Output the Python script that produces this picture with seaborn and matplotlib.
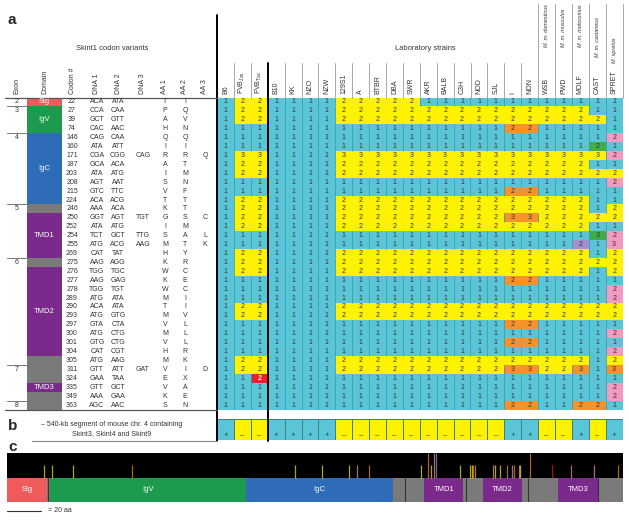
"""Skint1 codon variants across mouse strains (panels a-c)."""

import matplotlib

matplotlib.use("Agg")
import matplotlib.pyplot as plt
import numpy as np
import pandas as pd
import seaborn as sns
from matplotlib.colors import ListedColormap
from matplotlib.patches import Rectangle

# ---------------- data ----------------
strains = ["B6", "FVB$_{Jax}$", "FVB$_{Tac}$", "B10", "KK", "NZO", "NZW",
           "129S1", "A", "BTBR", "DBA", "SWR", "AKR", "BALB", "C3H", "NOD",
           "SJL", "I", "NON", "WSB", "PWD", "MOLF", "CAST", "SPRET"]
subspecies = ["M. m. domesticus", "M. m. musculus", "M. m. molossinus",
              "M. m. castaneus", "M. spretus"]  # WSB .. SPRET

codons = [22, 27, 39, 74, 146, 160, 171, 187, 203, 208, 215, 224, 246, 250,
          252, 254, 255, 269, 275, 276, 277, 278, 289, 290, 293, 297, 300,
          301, 304, 305, 311, 324, 335, 349, 363]
dna1 = ["ACA", "CCA", "GCT", "CAC", "CAG", "ATA", "CGA", "GCA", "ATA", "AGT",
        "GTC", "ACA", "AAA", "GGT", "ATA", "TCT", "ATG", "CAT", "AAG", "TGG",
        "AAG", "TGG", "ATG", "ACA", "ATG", "GTA", "ATG", "GTG", "CAT", "ATG",
        "GTT", "GAA", "GTT", "AAA", "AGC"]
dna2 = ["ATA", "CAA", "GTT", "AAC", "CAA", "ATT", "CGG", "ACA", "ATG", "AAT",
        "TTC", "ACG", "ACA", "AGT", "ATG", "GCT", "ACG", "TAT", "AGG", "TGC",
        "GAG", "TGT", "ATA", "ATA", "GTG", "CTA", "CTG", "CTG", "CGT", "AAG",
        "ATT", "TAA", "GCT", "GAA", "AAC"]
dna3 = ["", "", "", "", "", "", "CAG", "", "", "", "", "", "", "TGT", "",
        "TTG", "AAG", "", "", "", "", "", "", "", "", "", "", "", "", "",
        "GAT", "", "", "", ""]
aa1 = ["T", "P", "A", "H", "Q", "I", "R", "A", "I", "S", "V", "T", "K", "G",
       "I", "S", "M", "H", "K", "W", "K", "W", "M", "T", "M", "V", "M", "V",
       "H", "M", "V", "E", "V", "K", "S"]
aa2 = ["I", "Q", "V", "N", "Q", "I", "R", "T", "M", "N", "F", "T", "T", "S",
       "M", "A", "T", "Y", "R", "C", "E", "C", "I", "I", "V", "L", "L", "L",
       "R", "K", "I", "X", "A", "E", "N"]
aa3 = ["", "", "", "", "", "", "Q", "", "", "", "", "", "", "C", "", "L",
       "K", "", "", "", "", "", "", "", "", "", "", "", "", "", "D", "", "",
       "", ""]

# allele per strain (columns in `strains` order)
alleles = [
    "122111122222111111111111",  # 22
    "122111122222222222222211",  # 27
    "122111122222222222222221",  # 39
    "111111111111111112211111",  # 74
    "111111111111111111111112",  # 146
    "111111111111111111111121",  # 160
    "133111133333333333333332",  # 171
    "122111122222222222222211",  # 187
    "122111122222222222222222",  # 203
    "111111111111111111111112",  # 208
    "111111111111111112211111",  # 215
    "122111122222222222222211",  # 224
    "122111122222222222222212",  # 246
    "122111122222222223322222",  # 250
    "122111122222222222222211",  # 252
    "111111111111111111111132",  # 254
    "111111111111111111111213",  # 255
    "122111122222222222222212",  # 269
    "122111122222222222222222",  # 275
    "122111122222222222222212",  # 276
    "111111111111111112211111",  # 277
    "111111111111111111111112",  # 278
    "111111111111111111111112",  # 289
    "122111122222222222222222",  # 290
    "122111122222222222222222",  # 293
    "111111111111111112211111",  # 297
    "111111111111111111111112",  # 300
    "111111111111111112211111",  # 301
    "111111111111111111111112",  # 304
    "122111122222222222222212",  # 305
    "122111122222222223322313",  # 311
    "112111111111111111111111",  # 324
    "111111111111111111111112",  # 335
    "111111111111111111111112",  # 349
    "111111111111111112211221",  # 363
]
# haplotype class per cell: c=reference, y=common variant, o=I/NON type,
# g=CAST, p=SPRET, v=MOLF, r=FVB Tac
haplo = [
    "cyyccccyyyyycccccccccccc",
    "cyyccccyyyyyyyyyyyyyyycc",
    "cyyccccyyyyyyyyyyyyyyyyc",
    "cccccccccccccccccooccccc",
    "cccccccccccccccccccccccp",
    "ccccccccccccccccccccccgc",
    "cyyccccyyyyyyyyyyyyyyyyp",
    "cyyccccyyyyyyyyyyyyyyycc",
    "cyyccccyyyyyyyyyyyyyyyyy",
    "cccccccccccccccccccccccp",
    "cccccccccccccccccooccccc",
    "cyyccccyyyyyyyyyyyyyyycc",
    "cyyccccyyyyyyyyyyyyyyycy",
    "cyyccccyyyyyyyyyyooyyyyy",
    "cyyccccyyyyyyyyyyyyyyycc",
    "ccccccccccccccccccccccgp",
    "cccccccccccccccccccccvcp",
    "cyyccccyyyyyyyyyyyyyyycy",
    "cyyccccyyyyyyyyyyyyyyyyy",
    "cyyccccyyyyyyyyyyyyyyycy",
    "cccccccccccccccccooccccc",
    "cccccccccccccccccccccccp",
    "cccccccccccccccccccccccp",
    "cyyccccyyyyyyyyyyyyyyyyy",
    "cyyccccyyyyyyyyyyyyyyyyy",
    "cccccccccccccccccooccccc",
    "cccccccccccccccccccccccp",
    "cccccccccccccccccooccccc",
    "cccccccccccccccccccccccp",
    "cyyccccyyyyyyyyyyyyyyycy",
    "cyyccccyyyyyyyyyyooyyoco",
    "ccrccccccccccccccccccccc",
    "cccccccccccccccccccccccp",
    "cccccccccccccccccccccccp",
    "cccccccccccccccccooccooc",
]

segment_540kb = "+--++++----------++--+-+"

exon_names = ["2", "3", "4", "5", "6", "7", "8"]
exon_first_row = [0, 1, 4, 12, 18, 30, 34]
domain_rows = [("Sig", 0, 1), ("IgV", 1, 4), ("IgC", 4, 12), ("", 12, 13),
               ("TMD1", 13, 18), ("", 18, 19), ("TMD2", 19, 29), ("", 29, 32),
               ("TMD3", 32, 33), ("", 33, 35)]

protein_len = 366
protein_domains = [("Sig", 0, 24), ("IgV", 25.5, 142), ("IgC", 142, 229.5),
                   ("TMD1", 248, 271), ("TMD2", 283, 306), ("TMD3", 327.5, 351)]
exon_bounds_aa = [24.5, 236.5, 272.5, 309.5, 351]

# ---------------- style ----------------
haplo_codes = "cyogpvr"
haplo_colors = ["#5bc5d8", "#fff200", "#f5922b", "#3fae49", "#f29ac2",
                "#a391cf", "#e8202a"]
domain_colors = {"Sig": "#ef5b5b", "IgV": "#1c9a4e", "IgC": "#2f6cb8",
                 "TMD1": "#7a2a8a", "TMD2": "#7a2a8a", "TMD3": "#7a2a8a",
                 "": "#7a7a7a"}
txt_col = "#333333"

sns.set_style("white")
plt.rcParams["font.family"] = ["Liberation Sans", "DejaVu Sans"]
plt.rcParams["mathtext.default"] = "regular"

W, H = 629, 520
fig = plt.figure(figsize=(W / 100, H / 100), dpi=100)


def rect(x, y, w, h):
    return [x / W, 1 - (y + h) / H, w / W, h / H]


X0, COLW = 217.0, 16.9
Y0, Y1 = 97.5, 409.5
n_rows, n_cols = len(codons), len(strains)
ROWH = (Y1 - Y0) / n_rows

# ---------------- panel a heatmap ----------------
hm = fig.add_axes(rect(X0, Y0, COLW * n_cols, Y1 - Y0))
idx = pd.DataFrame([[haplo_codes.index(ch) for ch in row] for row in haplo],
                   index=codons, columns=strains)
vals = np.array([list(row) for row in alleles])
sns.heatmap(idx, cmap=ListedColormap(haplo_colors), vmin=-0.5,
            vmax=len(haplo_colors) - 0.5, annot=vals, fmt="", cbar=False,
            xticklabels=False, yticklabels=False, ax=hm,
            annot_kws=dict(fontsize=5.0))
for t in hm.texts:
    r = int(t.get_position()[1])
    c = int(t.get_position()[0])
    t.set_color("white" if haplo[r][c] == "r" else txt_col)
    t.set_fontweight("bold" if haplo[r][c] == "r" else "normal")
# column separators through reference-coloured cells
segs_x, segs_y0, segs_y1 = [], [], []
for r, row in enumerate(haplo):
    for j in range(1, n_cols):
        if row[j - 1] != row[j] or row[j] == "c":
            segs_x.append(j)
            segs_y0.append(r)
            segs_y1.append(r + 1)
hm.vlines(segs_x, segs_y0, segs_y1, color="#3a9db0", lw=0.6)

# ---------------- panel b ----------------
bx = fig.add_axes(rect(X0, 419, COLW * n_cols, 21))
b_idx = pd.DataFrame([[0 if s == "+" else 1 for s in segment_540kb]],
                     columns=strains)
b_txt = np.array([["+" if s == "+" else "\u2013" for s in segment_540kb]])
sns.heatmap(b_idx, cmap=ListedColormap(haplo_colors[:2]), vmin=-0.5, vmax=1.5,
            annot=b_txt, fmt="", cbar=False, xticklabels=False,
            yticklabels=False, linewidths=0.5, linecolor="#3d7f8a", ax=bx,
            annot_kws=dict(fontsize=5.5, color=txt_col))
for t in bx.texts:
    t.set_y(0.78)
    t.set_color(txt_col)

# ---------------- panel c ----------------
cx = fig.add_axes(rect(7, 453, 616, 49))
cx.set_xlim(0, protein_len)
cx.set_ylim(0, 2)
cx.axis("off")
cx.add_patch(Rectangle((0, 1), protein_len, 1, color="black", lw=0))
cx.add_patch(Rectangle((0, 0), protein_len, 1, color=domain_colors[""], lw=0))
for name, s, e in protein_domains:
    cx.add_patch(Rectangle((s, 0), e - s, 1, color=domain_colors[name], lw=0))
    cx.text((s + e) / 2, 0.5, name, color="white", fontsize=5.5,
            ha="center", va="center")
cx.vlines(exon_bounds_aa, 0, 1, color="#333333", lw=0.8)
priority = "orvypg"
for r, cod in enumerate(codons):
    nonsyn = aa1[r] != aa2[r] or (aa3[r] and aa3[r] != aa1[r])
    if not nonsyn:
        continue
    present = set(haplo[r]) - {"c"}
    code = next(p for p in priority if p in present)
    tall = any(alleles[r][k] == "3" and haplo[r][k] != "y"
               for k in range(n_cols))
    cx.vlines(cod, 1, 2 if tall else 1.5,
              color=haplo_colors[haplo_codes.index(code)], lw=0.9, alpha=0.7)

# ---------------- overlay: labels, left table, lines ----------------
bg = fig.add_axes([0, 0, 1, 1])
bg.set_xlim(0, W)
bg.set_ylim(H, 0)
bg.axis("off")
bg.patch.set_alpha(0)

fs = 5.0
bg.text(8, 20, "a", fontsize=11, fontweight="bold", va="center")
bg.text(8, 426, "b", fontsize=11, fontweight="bold", va="center")
bg.text(8, 447, "c", fontsize=11, fontweight="bold", va="center")
bg.text(112, 49, "Skint1 codon variants", fontsize=5.4, ha="center",
        va="center", color=txt_col)
bg.text(425, 49, "Laboratory strains", fontsize=5.4, ha="center",
        va="center", color=txt_col)

head_x = [17, 45, 72, 97, 118, 143, 165, 185, 205]
head_lbl = ["Exon", "Domain", "Codon #", "DNA 1", "DNA 2", "DNA 3", "AA 1",
            "AA 2", "AA 3"]
for x, lbl in zip(head_x, head_lbl):
    bg.text(x, 94, lbl, rotation=90, fontsize=fs, ha="center", va="bottom",
            color=txt_col)

for j, name in enumerate(strains):
    xc = X0 + COLW * (j + 0.5)
    bg.text(xc, 94.5, name, rotation=90, fontsize=fs, ha="center",
            va="bottom", color=txt_col)
wild_bottom = [47, 47, 47, 57, 63]
for k, sp in enumerate(subspecies):
    xc = X0 + COLW * (19 + k + 0.5)
    bg.text(xc, wild_bottom[k], sp, rotation=90, fontsize=4.0,
            fontstyle="italic", ha="center", va="bottom", color=txt_col)

# header separators
for j in range(1, n_cols + 1):
    if j == 3:
        continue
    top = 4 if j >= 19 else 63
    bg.plot([X0 + COLW * j] * 2, [top, Y0], color="#9a9a9a", lw=0.6)
bg.plot([X0, X0], [15, 441], color="black", lw=1.4)
bg.plot([X0 + COLW * 3] * 2, [63, 441], color="black", lw=1.4)
bg.plot([5, X0], [Y0, Y0], color="#555555", lw=0.9)
bg.plot([5, X0], [Y1 + 0.5, Y1 + 0.5], color="#555555", lw=0.9)
bg.plot([32, X0], [441, 441], color="#888888", lw=0.8)

# left table body
for r in range(n_rows):
    yc = Y0 + ROWH * (r + 0.5)
    for x, s in zip(head_x[2:], [str(codons[r]), dna1[r], dna2[r], dna3[r],
                                 aa1[r], aa2[r], aa3[r]]):
        bg.text(x, yc, s, fontsize=fs, ha="center", va="center",
                color=txt_col)
for name, r0, r1 in domain_rows:
    bg.add_patch(Rectangle((27, Y0 + ROWH * r0), 35, ROWH * (r1 - r0),
                           color=domain_colors[name], lw=0))
    if name:
        bg.text(44.5, Y0 + ROWH * (r0 + r1) / 2, name, color="white",
                fontsize=5.5, ha="center", va="center")
for name, r0 in zip(exon_names, exon_first_row):
    bg.text(17, Y0 + ROWH * (r0 + 0.5), name, fontsize=fs, ha="center",
            va="center", color=txt_col)
    if r0 > 0:
        yl = Y0 + ROWH * r0
        bg.plot([7, 27], [yl, yl], color="#777777", lw=0.7)

# panel b caption
bg.text(112, 424, "\u2013 540-kb segment of mouse chr. 4 containing",
        fontsize=fs, ha="center", va="center", color=txt_col)
bg.text(112, 434, "Skint3, Skint4 and Skint9", fontsize=fs, ha="center",
        va="center", color=txt_col)

# scale bar
bg.plot([7, 7 + 20 * 616 / protein_len], [511, 511], color=txt_col, lw=0.8)
bg.text(48, 511, "= 20 aa", fontsize=fs, va="center", color=txt_col)

fig.savefig("out.png", dpi=100)
plt.close(fig)
